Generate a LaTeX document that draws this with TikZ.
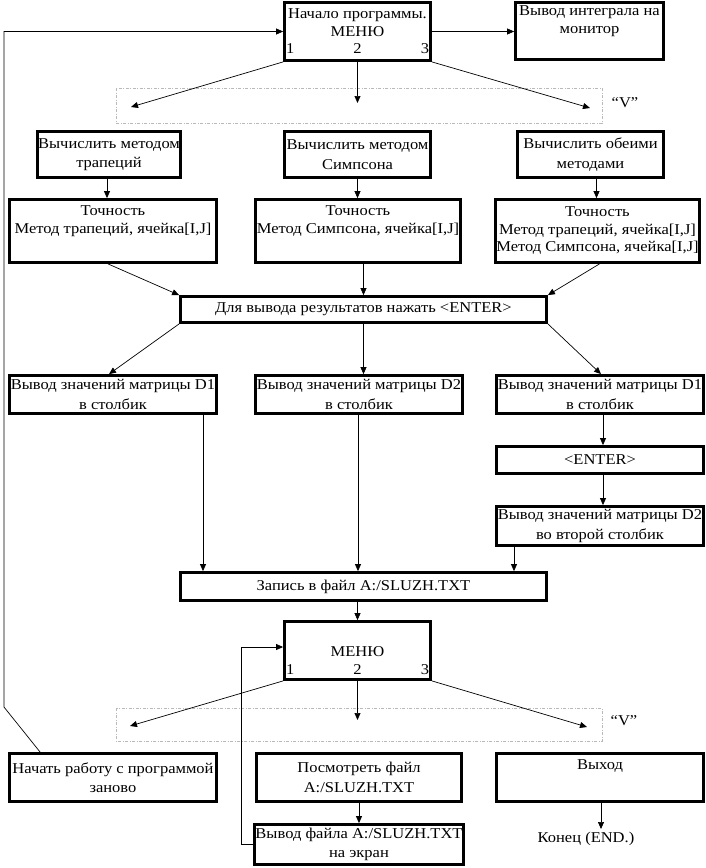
\documentclass[tikz,border=0pt]{standalone}
\usepackage{fontspec}
\setmainfont{Liberation Serif}[FakeStretch=1.1]
\usetikzlibrary{arrows.meta,calc}
\newcommand\fs{\fontsize{15}{17.5}\selectfont}
\newcommand\fsw{\fontsize{15}{19.5}\selectfont}
\tikzset{
  box/.style={draw, line width=2.8pt, inner sep=1pt, align=center, font=\fs},
  wbox/.style={box, font=\fsw},
  arr/.style={-{Triangle[length=7pt,width=6pt]}, line width=0.7pt},
  dbox/.style={draw=gray!55, line width=0.8pt, dash pattern=on 3pt off 1.5pt on 1pt off 1.5pt},
  lbl/.style={font=\fs, inner sep=0pt}
}
\begin{document}
\begin{tikzpicture}[x=1pt,y=-1pt]
\useasboundingbox (0,0) rectangle (706,868);
% dashed selection areas
\draw[dbox] (116,88) rectangle (602,123);
\draw[dbox] (116,708) rectangle (602,741);
\node[lbl] (v1) at (625,103) {“V”};
\node[lbl] (v2) at (624,721) {“V”};
% boxes
\node[box, minimum width=146, minimum height=58] (top) at (357.5,31.5)
  {Начало программы.\\МЕНЮ\\\makebox[143pt]{1\hfill 2\hfill 3}};
\node[box, minimum width=148, minimum height=57] (out) at (589.5,31) {Вывод интеграла на\\монитор\\\strut};
\node[wbox, minimum width=139, minimum height=46] (c1) at (109,154.5) {Вычислить методом\\трапеций};
\node[wbox, minimum width=146, minimum height=46] (c2) at (357.5,154.5) {Вычислить методом\\Симпсона};
\node[wbox, minimum width=146, minimum height=46] (c3) at (590.5,154.5) {Вычислить обеими\\методами};
\node[box, minimum width=207, minimum height=63] (t1) at (113,231) {Точность\\Метод трапеций, ячейка[I,J]\\\strut};
\node[box, minimum width=203, minimum height=63] (t2) at (358,231) {Точность\\Метод Симпсона, ячейка[I,J]\\\strut};
\node[box, minimum width=202, minimum height=63] (t3) at (597.5,231) {Точность\\Метод трапеций, ячейка[I,J]\\Метод Симпсона, ячейка[I,J]};
\node[box, minimum width=366, minimum height=26] (enter) at (363.5,309.5) {Для вывода результатов нажать <ENTER>};
\node[wbox, minimum width=207, minimum height=38] (d1) at (113,394.5) {Вывод значений матрицы D1\\в столбик};
\node[wbox, minimum width=205, minimum height=38] (d2) at (359,394.5) {Вывод значений матрицы D2\\в столбик};
\node[wbox, minimum width=207, minimum height=38] (d3) at (600,394.5) {Вывод значений матрицы D1\\в столбик};
\node[box, minimum width=207, minimum height=27] (e2) at (600,460) {<ENTER>};
\node[wbox, minimum width=207, minimum height=39] (d4) at (600,526) {Вывод значений матрицы D2\\во второй столбик};
\node[box, minimum width=366, minimum height=28] (zap) at (363.5,586.5) {Запись в файл A:/SLUZH.TXT};
\node[box, minimum width=146, minimum height=58] (menu) at (357.5,650.5)
  {\strut\\МЕНЮ\\\makebox[143pt]{1\hfill 2\hfill 3}};
\node[wbox, minimum width=207, minimum height=48] (rs) at (113,777.5) {Начать работу с программой\\заново};
\node[wbox, minimum width=205, minimum height=48] (view) at (359,777.5) {Посмотреть файл\\A:/SLUZH.TXT};
\node[wbox, minimum width=207, minimum height=48] (exit) at (600,777.5) {Выход\\\strut};
\node[wbox, minimum width=205, minimum height=40] (show) at (359,844.5) {Вывод файла A:/SLUZH.TXT\\на экран};
\node[lbl, anchor=north] (end) at (586,832) {Конец (END.)};
% free ends inside the dashed areas
\coordinate (a1) at (131,107);
\coordinate (a2) at (357.5,103);
\coordinate (a3) at (590,108);
\coordinate (b1) at (130,726);
\coordinate (b2) at (357.5,720);
\coordinate (b3) at (587,727);
% connectors
\draw[arr] (top.east) -- (top.east -| out.west);
\draw[arr] (top.south west) -- (a1);
\draw[arr] (top.south) -- (a2);
\draw[arr] (top.south east) -- (a3);
\draw[arr] ([xshift=-2pt]c1.south) -- ([xshift=-2pt]c1.south |- t1.north);
\draw[arr] (c2.south) -- (c2.south |- t2.north);
\draw[arr] ([xshift=6pt]c3.south) -- ([xshift=6pt]c3.south |- t3.north);
\draw[arr] ([xshift=-5pt]t1.south) -- (enter.north west);
\draw[arr] (enter.north |- t2.south) -- (enter.north);
\draw[arr] ([xshift=2pt]t3.south) -- (enter.north east);
\draw[arr] (enter.south west) -- ([xshift=-4pt]d1.north);
\draw[arr] (enter.south) -- (enter.south |- d2.north);
\draw[arr] (enter.south east) -- ([xshift=1pt]d3.north);
\draw[arr] ([xshift=3pt]d3.south) -- ([xshift=3pt]d3.south |- e2.north);
\draw[arr] ([xshift=3pt]e2.south) -- ([xshift=3pt]e2.south |- d4.north);
\coordinate (p1) at (203,0);
\coordinate (p2) at (358,0);
\coordinate (p3) at (514,0);
\draw[arr] (p1 |- d1.south) -- (p1 |- zap.north);
\draw[arr] (p2 |- d2.south) -- (p2 |- zap.north);
\draw[arr] (p3 |- d4.south) -- (p3 |- zap.north);
\draw[arr] (zap.south -| menu.south) -- (menu.north);
\draw[arr] (menu.south west) -- (b1);
\draw[arr] (menu.south) -- (b2);
\draw[arr] (menu.south east) -- (b3);
\draw[arr] (view.south) -- (show.north);
\coordinate (ex) at (601,0);
\draw[arr] (ex |- exit.south) -- ([yshift=3pt]ex |- end.north);
% loops back to menus
\coordinate (lp) at (241,647);
\draw[arr] (show.west) -- (show.west -| lp) -- (lp) -- (lp -| menu.west);
\coordinate (fb) at (4,707);
\draw[arr] ([xshift=32pt]rs.north west) -- (fb) -- (fb |- top.west) -- (top.west);
\end{tikzpicture}
\end{document}
